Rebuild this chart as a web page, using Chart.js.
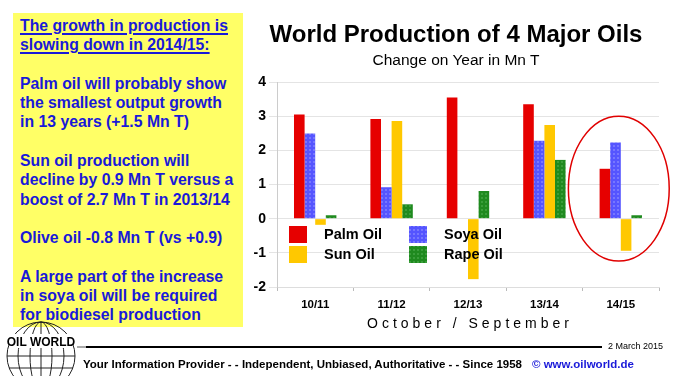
<!DOCTYPE html>
<html>
<head>
<meta charset="utf-8">
<script src="https://cdn.jsdelivr.net/npm/chart.js@4.4.1/dist/chart.umd.min.js"></script>
<style>
  body { margin: 0; background: #fff; font-family: "Liberation Sans", Arial, sans-serif; }
  #wrap { position: relative; width: 674px; height: 376px; overflow: hidden; }
  #chart { position: absolute; left: 0; top: 0; }
  .note {
    position: absolute; left: 13px; top: 13px; width: 223px; height: 311px;
    background: #ffff66; color: #1919d9; font-weight: bold; font-size: 15.8px;
    line-height: 19.3px; padding: 3px 0 0 7px; white-space: nowrap;
  }
  .note u { text-decoration-thickness: 2px; text-underline-offset: 2px; }
  .title { position: absolute; left: 256px; width: 400px; text-align: center; color: #000; }
  .xtitle { position: absolute; left: 300px; width: 340px; top: 315px; text-align: center; font-size: 14px; letter-spacing: 4px; }
  .foot { position: absolute; top: 358px; left: 83px; font-weight: bold; font-size: 11.5px; white-space: nowrap; }
  .foot span { color: #1919d9; margin-left: 10px; }
  .date { position: absolute; top: 341px; left: 608px; font-size: 9px; }
</style>
</head>
<body>
<div id="wrap">
  <canvas id="chart" width="674" height="376"></canvas>
  <div class="note">
    <u>The growth in production is</u><br>
    <u>slowing down in 2014/15:</u><br>
    <br>
    Palm oil will probably show<br>
    the smallest output growth<br>
    in 13 years (+1.5 Mn T)<br>
    <br>
    Sun oil production will<br>
    decline by 0.9 Mn T versus a<br>
    boost of 2.7 Mn T in 2013/14<br>
    <br>
    Olive oil -0.8 Mn T (vs +0.9)<br>
    <br>
    A large part of the increase<br>
    in soya oil will be required<br>
    for biodiesel production
  </div>
  <div class="title" style="top:20px;font-size:24px;font-weight:bold;">World Production of 4 Major Oils</div>
  <div class="title" style="top:51px;font-size:15.5px;">Change on Year in Mn T</div>
  <div class="xtitle">October / September</div>
  <svg style="position:absolute;left:0;top:318px" width="674" height="58">
    <g fill="none" stroke="#222" stroke-width="1">
      <circle cx="41" cy="38" r="34"/>
      <ellipse cx="41" cy="38" rx="11" ry="34"/>
      <ellipse cx="41" cy="38" rx="23" ry="34"/>
      <line x1="41" y1="4" x2="41" y2="72"/>
      <line x1="14" y1="18" x2="68" y2="18"/>
      <line x1="7" y1="38" x2="75" y2="38"/>
      <line x1="9" y1="50" x2="73" y2="50"/>
      <line x1="16" y1="62" x2="66" y2="62"/>
    </g>
    <rect x="9" y="16" width="64" height="14" fill="#fff"/>
    <text x="41" y="28" text-anchor="middle" font-family="Liberation Sans, Arial" font-weight="bold" font-size="12" fill="#000">OIL WORLD</text>
    <line x1="77" y1="29" x2="88" y2="29" stroke="#aaa" stroke-width="2"/>
    <line x1="86" y1="29" x2="602" y2="29" stroke="#000" stroke-width="2"/>
  </svg>
  <div class="date">2 March 2015</div>
  <div class="foot">Your Information Provider - - Independent, Unbiased, Authoritative - - Since 1958<span>© www.oilworld.de</span></div>
</div>
<script>
const categories = ['10/11', '11/12', '12/13', '13/14', '14/15'];
const palmOil = [3.05, 2.92, 3.55, 3.35, 1.46];
const soyaOil = [2.49, 0.92, 0.0, 2.28, 2.23];
const sunOil = [-0.18, 2.86, -1.77, 2.74, -0.94];
const rapeOil = [0.10, 0.42, 0.81, 1.72, 0.10];
const yMin = -2;
const yMax = 4;

// small dotted fill like the original chart
function dots(base, dot) {
  const c = document.createElement('canvas');
  c.width = 4; c.height = 4;
  const g = c.getContext('2d');
  g.fillStyle = base;
  g.fillRect(0, 0, 4, 4);
  g.fillStyle = dot;
  g.fillRect(1, 1, 2, 2);
  return g.createPattern(c, 'repeat');
}

const ctx = document.getElementById('chart').getContext('2d');
const soyaFill = dots('#5555ff', '#7777ff');
const rapeFill = dots('#1f8a1f', '#3a9e3a');

const legendPlugin = {
  id: 'innerLegend',
  afterDatasetsDraw(chart) {
    const c = chart.ctx;
    const a = chart.chartArea;
    const items = chart.data.datasets;
    const cols = [a.left + 12, a.left + 132];
    const rows = [a.top + 153, a.top + 173];
    c.save();
    c.font = 'bold 14.5px "Liberation Sans", Arial';
    c.textBaseline = 'middle';
    items.forEach((ds, i) => {
      const x = cols[i % 2];
      const y = rows[Math.floor(i / 2)];
      c.fillStyle = ds.backgroundColor;
      c.fillRect(x, y - 9, 18, 17);
      c.fillStyle = '#000';
      c.fillText(ds.label, x + 35, y);
    });
    c.restore();
  }
};

const ringPlugin = {
  id: 'ring',
  afterDatasetsDraw(chart) {
    const xs = chart.scales.x;
    const ys = chart.scales.y;
    const cx = xs.getPixelForValue(4) - 2;
    const cy = ys.getPixelForValue(0.88);
    const rx = (xs.getPixelForValue(1) - xs.getPixelForValue(0)) * 0.66;
    const ry = ys.getPixelForValue(0) - ys.getPixelForValue(2.12);
    const c = chart.ctx;
    c.save();
    c.strokeStyle = '#e00000';
    c.lineWidth = 1.5;
    c.beginPath();
    c.ellipse(cx, cy, rx, ry, 0, 0, Math.PI * 2);
    c.stroke();
    c.restore();
  }
};

new Chart(ctx, {
  type: 'bar',
  data: {
    labels: categories,
    datasets: [
      { label: 'Palm Oil', data: palmOil, backgroundColor: '#e60000' },
      { label: 'Soya Oil', data: soyaOil, backgroundColor: soyaFill },
      { label: 'Sun Oil', data: sunOil, backgroundColor: '#ffc800' },
      { label: 'Rape Oil', data: rapeOil, backgroundColor: rapeFill }
    ]
  },
  options: {
    responsive: false,
    animation: false,
    layout: { padding: { left: 240, top: 82, right: 15, bottom: 0 } },
    datasets: { bar: { categoryPercentage: 0.555, barPercentage: 1.0 } },
    plugins: { legend: { display: false }, tooltip: { enabled: false } },
    scales: {
      x: {
        afterFit(scale) { scale.height = 89; },
        grid: { offset: true, drawOnChartArea: false, tickLength: 4, color: '#bbb' },
        border: { color: '#ddd' },
        ticks: { color: '#000', padding: 7, font: { family: '"Liberation Sans", Arial', size: 11.5, weight: 'bold' } }
      },
      y: {
        min: yMin,
        max: yMax,
        afterFit(scale) { scale.width = 37; },
        grid: { color: '#e4e4e4', tickLength: 8 },
        border: { color: '#ccc' },
        ticks: { stepSize: 1, color: '#000', padding: 3, font: { family: '"Liberation Sans", Arial', size: 14, weight: 'bold' } }
      }
    }
  },
  plugins: [legendPlugin, ringPlugin]
});
</script>
</body>
</html>
